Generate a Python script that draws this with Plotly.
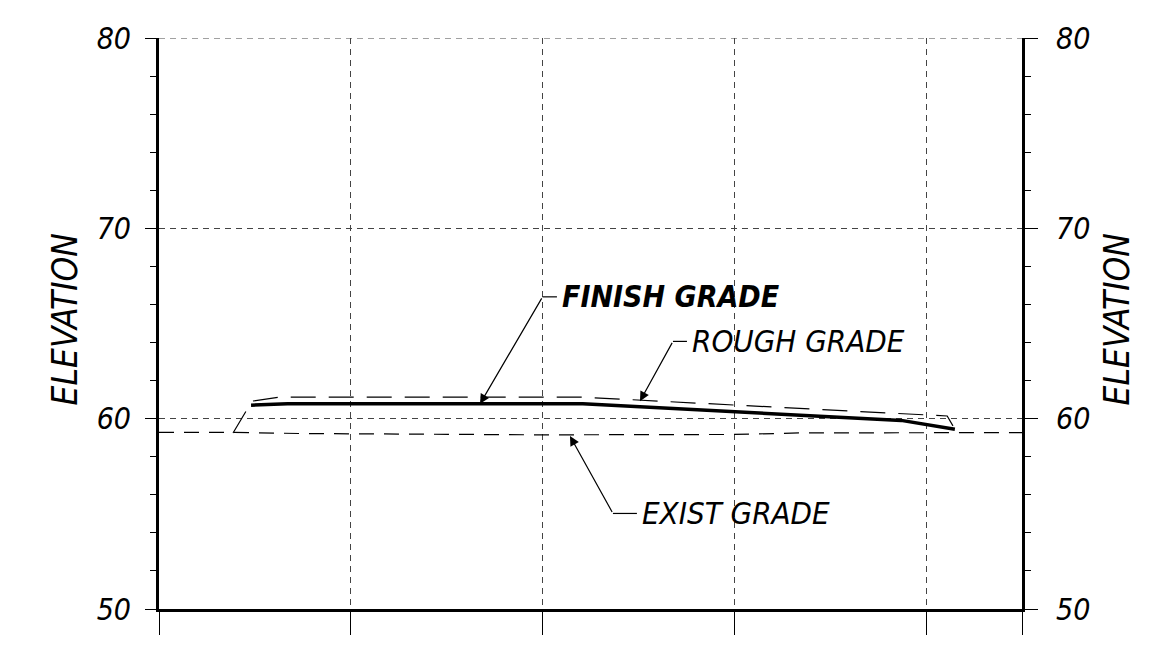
import plotly.graph_objects as go

# ---- data (station, elevation) ----
finish_x = [48, 67, 221, 301, 387, 415]
finish_y = [60.71, 60.78, 60.78, 60.36, 59.91, 59.44]

rough_x = [38.6, 48.5, 63, 221, 301, 411, 414]
rough_y = [59.25, 60.92, 61.13, 61.13, 60.71, 60.14, 59.62]

exist_x = [0, 38.6, 73.5, 97, 200, 300, 334, 450]
exist_y = [59.28, 59.28, 59.22, 59.20, 59.15, 59.17, 59.25, 59.27]

x_ticks = [0, 100, 200, 300, 400, 450]
y_major = [50, 60, 70, 80]

FONT = "DejaVu Sans Condensed, DejaVu Sans, sans-serif"

fig = go.Figure()
fig.add_trace(go.Scatter(x=exist_x, y=exist_y, mode="lines",
                         line=dict(color="black", width=1.2, dash="15px,10px")))
fig.add_trace(go.Scatter(x=rough_x, y=rough_y, mode="lines",
                         line=dict(color="black", width=1.2, dash="25px,13px")))
fig.add_trace(go.Scatter(x=finish_x, y=finish_y, mode="lines",
                         line=dict(color="black", width=3.5)))
# dummy trace on right axis
fig.add_trace(go.Scatter(x=[0], y=[50], yaxis="y2", mode="markers",
                         marker=dict(opacity=0), hoverinfo="skip"))

# top gridline (at 80) drawn as a shape since Plotly drops edge gridlines
fig.add_shape(type="line", xref="paper", yref="y", x0=0, x1=1, y0=80, y1=80,
              line=dict(color="#444", width=1, dash="6px,5px"))

# leaders: (tip, elbow, end of horizontal, text, bold)
labels = [
    ((167.4, 60.78), (200.0, 66.4), (207.5, 66.4), "FINISH GRADE", True),
    ((250.8, 60.92), (268.0, 64.06), (275.3, 64.06), "ROUGH GRADE", False),
    ((214.3, 59.09), (236.7, 55.02), (249.2, 55.02), "EXIST GRADE", False),
]
for tip, elbow, hend, txt, bold in labels:
    fig.add_trace(go.Scatter(x=[elbow[0], hend[0]], y=[elbow[1], hend[1]],
                             mode="lines", line=dict(color="black", width=1.2),
                             hoverinfo="skip"))
    fig.add_annotation(x=tip[0], y=tip[1], ax=elbow[0], ay=elbow[1],
                       xref="x", yref="y", axref="x", ayref="y", text="",
                       showarrow=True, arrowhead=2, arrowsize=1.6,
                       arrowwidth=1.2, arrowcolor="black")
    fig.add_annotation(x=hend[0] + 1.5, y=hend[1], xref="x", yref="y",
                       text=f"<b>{txt}</b>" if bold else txt, showarrow=False,
                       xanchor="left", yanchor="middle",
                       font=dict(family=FONT, size=30 if bold else 31,
                                 color="black", style="italic"))

for xp in (-0.109, 1.110):
    fig.add_annotation(x=xp, y=0.507, xref="paper", yref="paper",
                       xanchor="center", yanchor="middle",
                       text="ELEVATION", showarrow=False, textangle=-90,
                       font=dict(family=FONT, size=35, color="black", style="italic"))

grid = dict(showgrid=True, gridcolor="#444", gridwidth=1, griddash="6px,5px")

fig.update_layout(
    width=1158, height=657,
    margin=dict(l=151, r=144, t=27, b=56),
    paper_bgcolor="white", plot_bgcolor="white",
    showlegend=False,
    xaxis=dict(range=[0, 450], tickvals=x_ticks, showticklabels=False,
               ticks="outside", ticklen=23, tickwidth=1, tickcolor="black",
               showline=True, linewidth=3, linecolor="black", zeroline=False,
               **grid),
    yaxis=dict(range=[50, 80], tickvals=y_major, ticks="outside", ticklen=11,
               tickwidth=1.2, tickcolor="black", showline=True, linewidth=3,
               linecolor="black", zeroline=False, ticklabelstandoff=8,
               minor=dict(dtick=2, ticks="outside", ticklen=6, tickwidth=1.2,
                          tickcolor="black", showgrid=False),
               tickfont=dict(family=FONT, size=30, color="black", style="italic"),
               **grid),
    yaxis2=dict(range=[50, 80], tickvals=y_major, overlaying="y", side="right",
                ticks="outside", ticklen=13, tickwidth=1.2, tickcolor="black",
                showline=True, linewidth=3, linecolor="black", zeroline=False,
                showgrid=False, ticklabelstandoff=12,
                minor=dict(dtick=2, ticks="outside", ticklen=6, tickwidth=1.2,
                           tickcolor="black"),
                tickfont=dict(family=FONT, size=30, color="black", style="italic")),
)

fig.write_html("out.html")
